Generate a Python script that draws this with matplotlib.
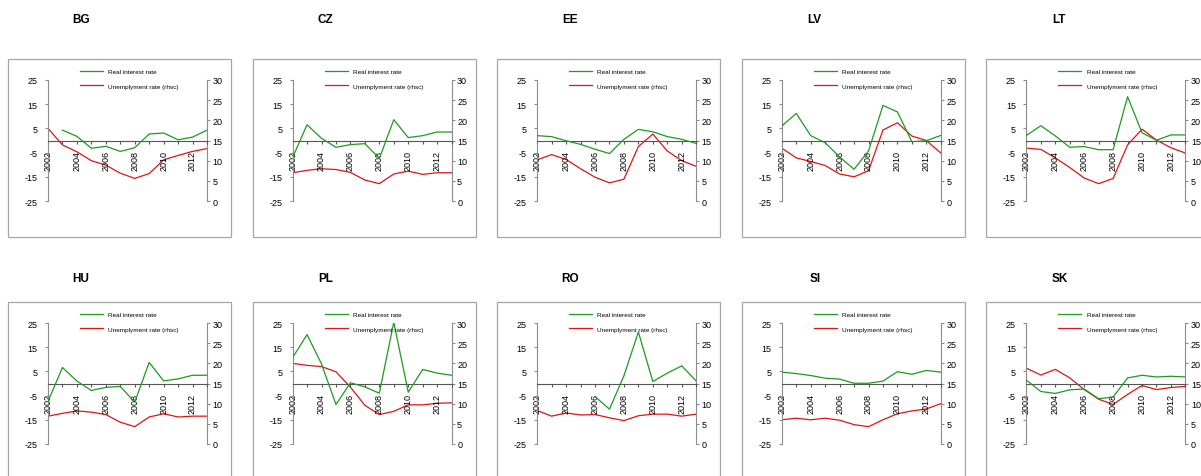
import numpy as np
import matplotlib
matplotlib.use("Agg")
import matplotlib.pyplot as plt
from matplotlib.patches import Rectangle
from matplotlib.lines import Line2D

plt.rcParams['font.family'] = ['Liberation Sans', 'DejaVu Sans']
plt.rcParams['axes.unicode_minus'] = False

years = np.arange(2002, 2014)
countries = ["BG", "CZ", "EE", "LV", "LT", "HU", "PL", "RO", "SI", "SK"]
nan = np.nan

# real interest rate, % (left axis)
rate_bg = [nan, 4.3, 1.7, -3.2, -2.4, -4.5, -3.0, 2.7, 3.1, 0.3, 1.4, 4.3]
rate_cz = [-7.0, 6.5, 0.9, -2.8, -1.7, -1.3, -7.4, 8.6, 1.2, 2.0, 3.5, 3.5]
rate_ee = [2.0, 1.6, -0.1, -1.6, -3.6, -5.4, 0.5, 4.6, 3.6, 1.6, 0.5, -1.2]
rate_lv = [6.0, 11.2, 2.0, -0.9, -6.8, -11.9, -4.3, 14.5, 11.8, -0.5, -0.1, 2.1]
rate_lt = [2.1, 6.1, 1.9, -2.8, -2.5, -3.8, -3.8, 18.1, 3.2, 0.1, 2.3, 2.3]
rate_hu = [-7.4, 6.6, 1.0, -2.9, -1.6, -1.2, -7.7, 8.7, 1.1, 1.9, 3.4, 3.4]
rate_pl = [10.7, 20.2, 8.1, -8.7, 0.3, -1.4, -4.0, 25.3, -3.6, 5.8, 4.3, 3.4]
rate_ro = [nan, nan, nan, nan, -5.4, -10.6, 3.2, 21.3, 0.8, 4.3, 7.3, 1.0]
rate_si = [4.7, 4.1, 3.3, 2.2, 1.8, 0.1, 0.1, 1.0, 4.9, 3.8, 5.4, 4.7]
rate_sk = [1.4, -3.3, -4.1, -2.6, -2.3, -6.3, -5.6, 2.3, 3.4, 2.7, 3.0, 2.7]

# unemployment rate, % (right axis)
unemp_bg = [18.0, 13.9, 12.2, 10.0, 8.9, 6.9, 5.6, 6.8, 10.2, 11.3, 12.3, 13.0]
unemp_cz = [7.0, 7.6, 8.0, 7.8, 7.1, 5.2, 4.3, 6.7, 7.4, 6.6, 7.0, 7.0]
unemp_ee = [10.2, 11.5, 10.3, 8.0, 5.9, 4.5, 5.4, 13.5, 16.6, 12.4, 10.0, 8.6]
unemp_lv = [13.1, 10.7, 9.8, 8.8, 6.7, 6.0, 7.5, 17.6, 19.4, 16.1, 15.0, 11.9]
unemp_lt = [13.1, 12.8, 10.7, 8.3, 5.7, 4.3, 5.6, 13.9, 17.8, 15.1, 13.2, 11.9]
unemp_hu = [6.9, 7.6, 8.2, 7.9, 7.3, 5.4, 4.3, 6.7, 7.5, 6.7, 6.9, 6.9]
unemp_pl = [20.0, 19.5, 19.2, 17.9, 14.1, 9.6, 7.3, 8.1, 9.7, 9.7, 10.1, 10.2]
unemp_ro = [8.3, 6.9, 7.7, 7.2, 7.3, 6.5, 5.8, 7.0, 7.4, 7.4, 6.9, 7.4]
unemp_si = [6.0, 6.4, 6.0, 6.4, 5.9, 4.8, 4.3, 6.0, 7.5, 8.2, 8.7, 10.0]
unemp_sk = [18.8, 17.1, 18.5, 16.4, 13.5, 11.1, 9.8, 12.3, 14.5, 13.5, 14.0, 14.3]

rates = [rate_bg, rate_cz, rate_ee, rate_lv, rate_lt,
         rate_hu, rate_pl, rate_ro, rate_si, rate_sk]
unemps = [unemp_bg, unemp_cz, unemp_ee, unemp_lv, unemp_lt,
          unemp_hu, unemp_pl, unemp_ro, unemp_si, unemp_sk]

GREEN = '#1e9a1e'
RED = '#e01414'
AXIS_GRAY = '#8c8c8c'

W, H = 1201, 477
fig = plt.figure(figsize=(W / 100, H / 100), dpi=100)

col_step = 244.6
row_step = 243
title_y = [20, 279]


def fx(px):
    return px / W


def fy(py):
    return 1 - py / H


for i, (name, rate, unemp) in enumerate(zip(countries, rates, unemps)):
    r, c = divmod(i, 5)
    ox = c * col_step
    oy = r * row_step

    # panel frame
    fig.patches.append(Rectangle((fx(8 + ox), fy(60 + oy + 178)), fx(223), 178 / H,
                                 transform=fig.transFigure, fill=False,
                                 edgecolor='#a6a6a6', linewidth=0.9))
    fig.text(fx(81 + ox), fy(title_y[r]), name, ha='center', va='center',
             fontsize=8.5, fontweight='bold')

    ax = fig.add_axes([fx(48 + ox), fy(81 + oy + 121), fx(159), 121 / H])
    ax2 = ax.twinx()

    ax.plot(years, rate, color=GREEN, lw=0.9, zorder=3)
    ax2.plot(years, unemp, color=RED, lw=0.9, zorder=3)

    ax.set_xlim(2002, 2013)
    ax.set_ylim(-25, 25)
    ax2.set_ylim(0, 30)
    ax.set_yticks([-25, -15, -5, 5, 15, 25])
    ax2.set_yticks(np.arange(0, 31, 5))
    ax.set_xticks(years)
    ax.set_xticklabels([str(y) if y % 2 == 0 else '' for y in years])

    for a in (ax, ax2):
        a.patch.set_visible(False)
        a.spines['top'].set_visible(False)
        a.spines['bottom'].set_visible(False)
    ax.spines['right'].set_visible(False)
    ax2.spines['left'].set_visible(False)
    ax.spines['left'].set_color(AXIS_GRAY)
    ax2.spines['right'].set_color(AXIS_GRAY)
    ax.spines['bottom'].set_visible(True)
    ax.spines['bottom'].set_position(('data', 0))
    ax.spines['bottom'].set_color('#555555')
    ax.spines['bottom'].set_linewidth(0.8)

    ax.tick_params(axis='y', length=2.5, width=0.8, color=AXIS_GRAY, pad=5, labelsize=6.5)
    ax2.tick_params(axis='y', length=2.5, width=0.8, color=AXIS_GRAY, pad=1.5, labelsize=6.5)
    ax.tick_params(axis='x', length=2.5, width=0.8, color='#555555', pad=4,
                   labelsize=6.5, labelrotation=90)
    ax.set_zorder(ax2.get_zorder() + 1)

    handles = [Line2D([], [], color=GREEN, lw=0.9),
               Line2D([], [], color=RED, lw=0.9)]
    ax.legend(handles, ['Real interest rate', 'Unemplyment rate (rhsc)'],
              loc='upper left', bbox_to_anchor=(32 / 159, 1 + 11.5 / 121),
              frameon=False, fontsize=4.6, handlelength=3.6, handletextpad=0.8,
              labelspacing=1.45, borderpad=0, borderaxespad=0)

fig.savefig('out.png', dpi=100)
